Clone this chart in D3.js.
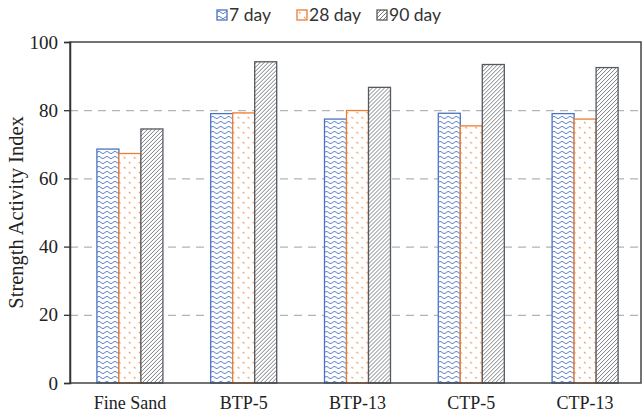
<!DOCTYPE html>
<html>
<head>
<meta charset="utf-8">
<script src="https://cdn.jsdelivr.net/npm/d3@7"></script>
<style>
	body { margin: 0; background: #fff; }
	svg { display: block; }
	.tick text, .cat { font-family: "Liberation Serif", "DejaVu Serif", serif; fill: #222; }
	.legend text { font-family: Lato, "Open Sans", sans-serif; fill: #333; }
</style>
</head>
<body>
<script>
/* Data */

var CATEGORIES = ["Fine Sand", "BTP-5", "BTP-13", "CTP-5", "CTP-13"];
var SERIES     = ["7 day", "28 day", "90 day"];
var DAY_7      = [68.6, 79.0, 77.4, 79.1, 79.0];
var DAY_28     = [67.3, 79.2, 79.9, 75.4, 77.4];
var DAY_90     = [74.5, 94.2, 86.7, 93.4, 92.5];
var Y_TICKS    = [0, 20, 40, 60, 80, 100];

/* Measures */

var W = 643,
    H = 414;

var PLOT = { left: 70, right: 641, top: 42, bottom: 383 };

var COLORS = { blue: "#4a72c4", orange: "#ed7d31", gray: "#555a60" };

var svg = d3.select("body").append("svg")
	.attr("width", W)
	.attr("height", H);

function addDefs() {
	var defs = svg.append("defs");

	// 7 day: blue waves
	var wave = defs.append("pattern")
		.attr("id", "wave")
		.attr("patternUnits", "userSpaceOnUse")
		.attr("width", 8)
		.attr("height", 5);
	wave.append("rect").attr("width", 8).attr("height", 5).attr("fill", "#fff");
	wave.append("path")
		.attr("d", "M0,2.5 Q2,0 4,2.5 T8,2.5")
		.attr("fill", "none")
		.attr("stroke", COLORS.blue)
		.attr("stroke-width", 0.9);

	// 28 day: orange specks
	var dots = defs.append("pattern")
		.attr("id", "dots")
		.attr("patternUnits", "userSpaceOnUse")
		.attr("width", 10)
		.attr("height", 10);
	dots.append("rect").attr("width", 10).attr("height", 10).attr("fill", "#fff");
	dots.selectAll("path")
		.data([[2, 2], [7, 7]])
		.enter().append("path")
		.attr("d", function(d) { return "M" + d[0] + "," + d[1] + " l1.5,1.5"; })
		.attr("stroke", COLORS.orange)
		.attr("stroke-width", 1.1)
		.attr("opacity", 0.8);

	// 90 day: gray diagonal hatch
	var hatch = defs.append("pattern")
		.attr("id", "hatch")
		.attr("patternUnits", "userSpaceOnUse")
		.attr("width", 4)
		.attr("height", 4);
	hatch.append("rect").attr("width", 4).attr("height", 4).attr("fill", "#fff");
	hatch.append("path")
		.attr("d", "M-1,1 l2,-2 M0,4 l4,-4 M3,5 l2,-2")
		.attr("stroke", "#6b6f75")
		.attr("stroke-width", 0.9);
}

addDefs();

var FILLS   = ["url(#wave)", "url(#dots)", "url(#hatch)"];
var STROKES = [COLORS.blue, COLORS.orange, COLORS.gray];

var x0 = d3.scaleBand()
	.domain(CATEGORIES)
	.range([73, PLOT.right + 1])
	.paddingInner(0.42)
	.paddingOuter(0.21);

var x1 = d3.scaleBand()
	.domain(SERIES)
	.range([0, x0.bandwidth()]);

var y = d3.scaleLinear()
	.domain([0, 100])
	.range([PLOT.bottom, PLOT.top]);

/* gridlines */
svg.append("g").selectAll("line")
	.data(Y_TICKS.filter(function(t) { return t > 0 && t < 100; }))
	.enter().append("line")
	.attr("x1", PLOT.left)
	.attr("x2", PLOT.right)
	.attr("y1", function(d) { return y(d) + 0.5; })
	.attr("y2", function(d) { return y(d) + 0.5; })
	.attr("stroke", "#b4b4b4")
	.attr("stroke-width", 1.3)
	.attr("stroke-dasharray", "8,6");

/* bars */
var rows = CATEGORIES.map(function(c, i) {
	return { cat: c, values: [DAY_7[i], DAY_28[i], DAY_90[i]] };
});

svg.append("g").selectAll("g")
	.data(rows)
	.enter().append("g")
	.attr("transform", function(d) { return "translate(" + x0(d.cat) + ",0)"; })
	.selectAll("rect")
	.data(function(d) { return d.values.map(function(v, i) { return { s: i, v: v }; }); })
	.enter().append("rect")
	.attr("x", function(d) { return x1(SERIES[d.s]); })
	.attr("y", function(d) { return y(d.v); })
	.attr("width", x1.bandwidth())
	.attr("height", function(d) { return y(0) - y(d.v); })
	.attr("fill", function(d) { return FILLS[d.s]; })
	.attr("stroke", function(d) { return STROKES[d.s]; })
	.attr("stroke-width", 1.3);

/* frame */
svg.append("rect")
	.attr("x", PLOT.left)
	.attr("y", PLOT.top)
	.attr("width", PLOT.right - PLOT.left)
	.attr("height", PLOT.bottom - PLOT.top)
	.attr("fill", "none")
	.attr("stroke", "#444")
	.attr("stroke-width", 1.5);

/* y axis */
var yAxis = svg.append("g")
	.attr("transform", "translate(" + PLOT.left + ",0)")
	.call(d3.axisLeft(y).tickValues(Y_TICKS).tickSize(6).tickPadding(6));
yAxis.attr("font-family", null);
yAxis.select(".domain").attr("stroke", "#333").attr("stroke-width", 1.5);
yAxis.selectAll(".tick line").attr("stroke", "#333").attr("stroke-width", 1.3);
yAxis.selectAll(".tick text")
	.style("font-family", "'Liberation Serif', serif")
	.style("font-size", "19px")
	.attr("fill", "#222");

svg.append("text")
	.attr("class", "cat")
	.attr("transform", "translate(23," + ((PLOT.top + PLOT.bottom) / 2) + ") rotate(-90)")
	.attr("text-anchor", "middle")
	.attr("font-size", 20.5)
	.text("Strength Activity Index");

/* category labels */
svg.append("g").selectAll("text")
	.data(CATEGORIES)
	.enter().append("text")
	.attr("class", "cat")
	.attr("x", function(d) { return x0(d) + x0.bandwidth() / 2; })
	.attr("y", 409)
	.attr("text-anchor", "middle")
	.attr("font-size", 18)
	.text(String);

/* legend */
var LEGEND_X = [217, 297, 377];
var legend = svg.append("g").attr("class", "legend");
var item = legend.selectAll("g")
	.data(SERIES)
	.enter().append("g")
	.attr("transform", function(d, i) { return "translate(" + LEGEND_X[i] + ",10)"; });
item.append("rect")
	.attr("width", 10)
	.attr("height", 10)
	.attr("fill", function(d, i) { return FILLS[i]; })
	.attr("stroke", function(d, i) { return STROKES[i]; })
	.attr("stroke-width", 1.3);
item.append("text")
	.attr("x", 12)
	.attr("y", 11)
	.attr("font-size", 17.5)
	.text(String);
</script>
</body>
</html>
